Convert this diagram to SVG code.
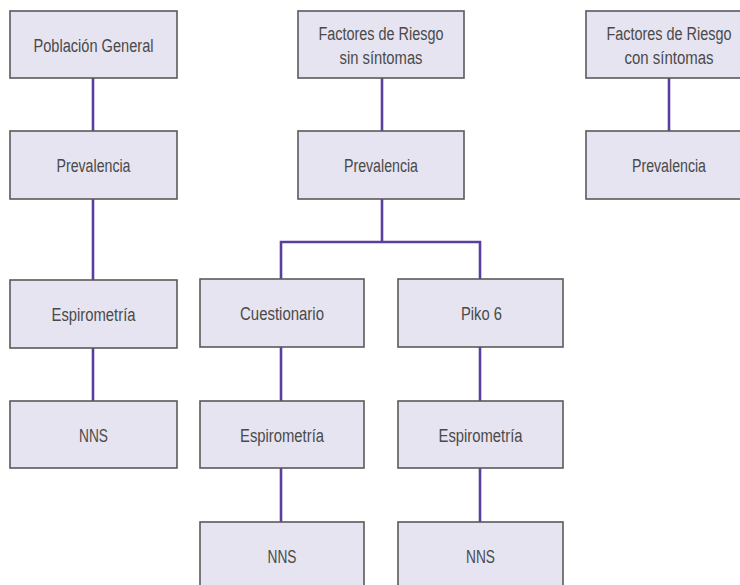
<svg xmlns="http://www.w3.org/2000/svg" width="740" height="585" viewBox="0 0 740 585">
<style>
.box{fill:#e6e4f1;stroke:#5a5a5a;stroke-width:1.6}
.t{font-family:"Liberation Sans",Arial,sans-serif;font-size:18px;fill:#4a4a4a;text-anchor:middle}
.c{stroke:#5b3f9e;stroke-width:2.6;fill:none}
</style>
<rect width="740" height="585" fill="#ffffff"/>
<g id="connectors">
<line class="c" x1="93" y1="78" x2="93" y2="131"/>
<line class="c" x1="93" y1="199" x2="93" y2="280"/>
<line class="c" x1="93" y1="348" x2="93" y2="401"/>
<line class="c" x1="382" y1="78" x2="382" y2="131"/>
<polyline class="c" points="382,199 382,242"/>
<polyline class="c" points="281,279 281,242 480,242 480,279"/>
<line class="c" x1="281" y1="347" x2="281" y2="401"/>
<line class="c" x1="281" y1="468" x2="281" y2="522"/>
<line class="c" x1="480" y1="347" x2="480" y2="401"/>
<line class="c" x1="480" y1="468" x2="480" y2="522"/>
<line class="c" x1="669" y1="78" x2="669" y2="131"/>
</g>
<g id="poblacion"><rect class="box" x="10" y="11" width="167" height="67"/><text class="t" x="93.5" y="51.5" textLength="120" lengthAdjust="spacingAndGlyphs">Población General</text></g>
<g id="prev1"><rect class="box" x="10" y="131" width="167" height="68"/><text class="t" x="93.5" y="172" textLength="74" lengthAdjust="spacingAndGlyphs">Prevalencia</text></g>
<g id="espiro1"><rect class="box" x="10" y="280" width="167" height="68"/><text class="t" x="93.5" y="321" textLength="84" lengthAdjust="spacingAndGlyphs">Espirometría</text></g>
<g id="nns1"><rect class="box" x="10" y="401" width="167" height="67"/><text class="t" x="93.5" y="441.5" textLength="29" lengthAdjust="spacingAndGlyphs">NNS</text></g>
<g id="factores-sin"><rect class="box" x="298" y="11" width="166" height="67"/><text class="t" x="381" y="40" textLength="125" lengthAdjust="spacingAndGlyphs">Factores de Riesgo</text><text class="t" x="381" y="64" textLength="83" lengthAdjust="spacingAndGlyphs">sin síntomas</text></g>
<g id="prev2"><rect class="box" x="298" y="131" width="166" height="68"/><text class="t" x="381" y="172" textLength="74" lengthAdjust="spacingAndGlyphs">Prevalencia</text></g>
<g id="cuestionario"><rect class="box" x="200" y="279" width="164" height="68"/><text class="t" x="282" y="320" textLength="84" lengthAdjust="spacingAndGlyphs">Cuestionario</text></g>
<g id="piko6"><rect class="box" x="398" y="279" width="165" height="68"/><text class="t" x="481.5" y="320" textLength="41" lengthAdjust="spacingAndGlyphs">Piko 6</text></g>
<g id="espiro2"><rect class="box" x="200" y="401" width="164" height="67"/><text class="t" x="282" y="441.5" textLength="84" lengthAdjust="spacingAndGlyphs">Espirometría</text></g>
<g id="espiro3"><rect class="box" x="398" y="401" width="165" height="67"/><text class="t" x="480.5" y="441.5" textLength="84" lengthAdjust="spacingAndGlyphs">Espirometría</text></g>
<g id="nns2"><rect class="box" x="200" y="522" width="164" height="67"/><text class="t" x="282" y="562.5" textLength="29" lengthAdjust="spacingAndGlyphs">NNS</text></g>
<g id="nns3"><rect class="box" x="398" y="522" width="165" height="67"/><text class="t" x="480.5" y="562.5" textLength="29" lengthAdjust="spacingAndGlyphs">NNS</text></g>
<g id="factores-con"><rect class="box" x="586" y="11" width="166" height="67"/><text class="t" x="669" y="40" textLength="125" lengthAdjust="spacingAndGlyphs">Factores de Riesgo</text><text class="t" x="669" y="64" textLength="89" lengthAdjust="spacingAndGlyphs">con síntomas</text></g>
<g id="prev3"><rect class="box" x="586" y="131" width="166" height="68"/><text class="t" x="669" y="172" textLength="74" lengthAdjust="spacingAndGlyphs">Prevalencia</text></g>
</svg>
